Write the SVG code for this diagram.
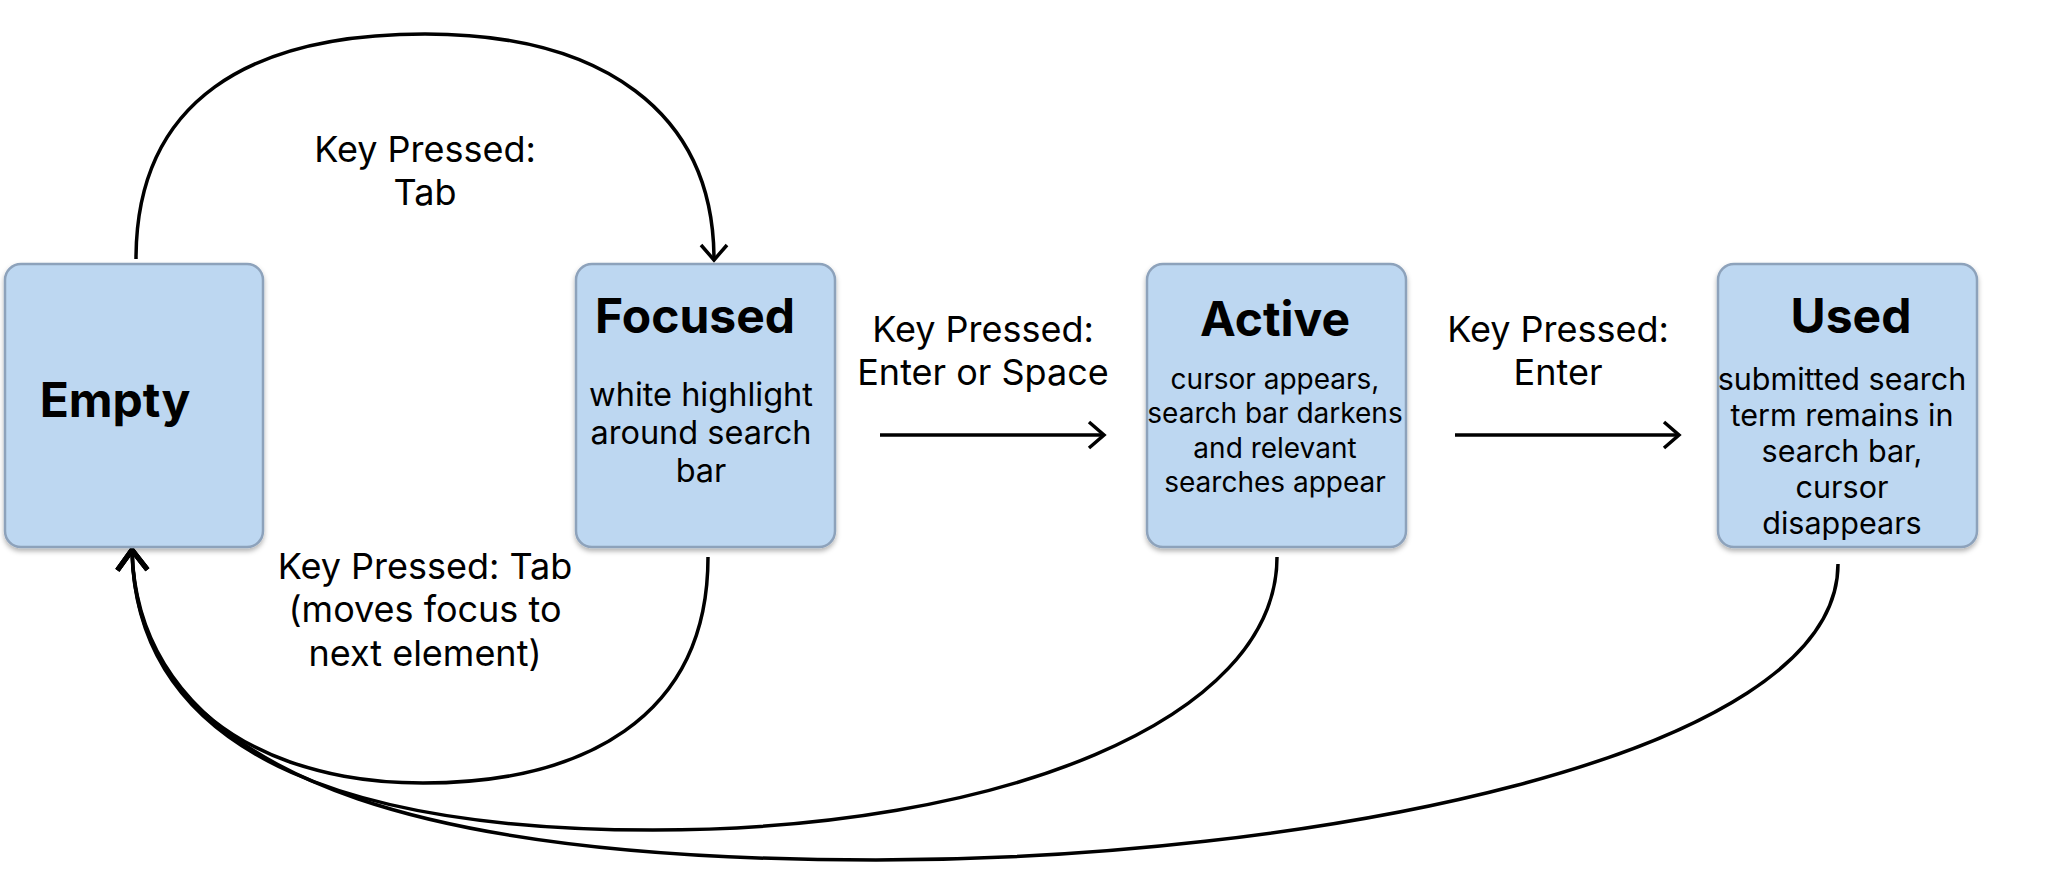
<svg xmlns="http://www.w3.org/2000/svg" width="2050" height="870" viewBox="0 0 2050 870">
  <style>
    .box { fill: #bdd7f1; stroke: #8da2bb; stroke-width: 2.5; filter: url(#shadow); }
    .title { font-family: Inter, "Liberation Sans", sans-serif; font-weight: 700; font-size: 48px; fill: #000; text-anchor: middle; }
    .body { font-family: Inter, "Liberation Sans", sans-serif; font-weight: 400; fill: #000; text-anchor: middle; }
    .label { font-family: Inter, "Liberation Sans", sans-serif; font-weight: 400; font-size: 36px; fill: #000; text-anchor: middle; }
    .edge { fill: none; stroke: #000; stroke-width: 3.5; }
  </style>
  <defs>
    <filter id="shadow" x="-10%" y="-10%" width="120%" height="125%">
      <feDropShadow dx="0" dy="3" stdDeviation="2.5" flood-color="#000" flood-opacity="0.3"/>
    </filter>
    <marker id="open-arrow" markerUnits="userSpaceOnUse" viewBox="-30 -20 40 40" markerWidth="40" markerHeight="40" refX="0" refY="0" orient="auto">
      <path d="M-15,-13 L0,0 L-15,13" fill="none" stroke="#000" stroke-width="3.5" stroke-linejoin="miter"/>
    </marker>
    <marker id="open-arrow-heavy" markerUnits="userSpaceOnUse" viewBox="-30 -20 40 40" markerWidth="40" markerHeight="40" refX="0" refY="0" orient="auto">
      <path d="M-20,-15 L0,0 L-20,15" fill="none" stroke="#000" stroke-width="5" stroke-linejoin="miter"/>
    </marker>
  </defs>

  <rect width="2050" height="870" fill="#fff"/>

  <!-- transitions -->
  <g id="connectors">
    <!-- Empty -> Focused (Tab) -->
    <path class="edge" d="M136,259 C136,100 250,34 425,34 C600,34 714,110 714,260" marker-end="url(#open-arrow)"/>
    <!-- Focused -> Active -->
    <path class="edge" d="M880,435 L1104,435" marker-end="url(#open-arrow)"/>
    <!-- Active -> Used -->
    <path class="edge" d="M1455,435 L1679,435" marker-end="url(#open-arrow)"/>
    <!-- Focused -> Empty (Tab leaves) -->
    <path class="edge" d="M708,557 C708,720 580,783 423,783 C360,783 320,772 290,762 C200,730 134,660 132,550" marker-end="url(#open-arrow-heavy)"/>
    <!-- Active -> Empty -->
    <path class="edge" d="M1277,557 C1277,720 1000,830 653,830 C380,830 136,770 132,550" marker-end="url(#open-arrow-heavy)"/>
    <!-- Used -> Empty -->
    <path class="edge" d="M1838,564 C1838,760 1300,860 876,860 C480,860 138,800 132,550" marker-end="url(#open-arrow-heavy)"/>
  </g>

  <!-- transition labels -->
  <g id="label-tab">
    <text class="label" x="425" y="162">Key Pressed:</text>
    <text class="label" x="425" y="205">Tab</text>
  </g>
  <g id="label-enter-space">
    <text class="label" x="983" y="342">Key Pressed:</text>
    <text class="label" x="983" y="385">Enter or Space</text>
  </g>
  <g id="label-enter">
    <text class="label" x="1558" y="342">Key Pressed:</text>
    <text class="label" x="1558" y="385">Enter</text>
  </g>
  <g id="label-tab-out">
    <text class="label" x="425" y="579">Key Pressed: Tab</text>
    <text class="label" x="425" y="622">(moves focus to</text>
    <text class="label" x="425" y="666">next element)</text>
  </g>

  <!-- states -->
  <g id="node-empty">
    <rect class="box" x="5" y="264" width="258" height="283" rx="16"/>
    <text class="title" x="115" y="417">Empty</text>
  </g>
  <g id="node-focused">
    <rect class="box" x="576" y="264" width="259" height="283" rx="16"/>
    <text class="title" x="695" y="333">Focused</text>
    <text class="body" font-size="32.5" x="701" y="406">white highlight</text>
    <text class="body" font-size="32.5" x="701" y="444">around search</text>
    <text class="body" font-size="32.5" x="701" y="482">bar</text>
  </g>
  <g id="node-active">
    <rect class="box" x="1147" y="264" width="259" height="283" rx="16"/>
    <text class="title" x="1275" y="336">Active</text>
    <text class="body" font-size="28" x="1275" y="389">cursor appears,</text>
    <text class="body" font-size="28" x="1275" y="423">search bar darkens</text>
    <text class="body" font-size="28" x="1275" y="458">and relevant</text>
    <text class="body" font-size="28" x="1275" y="492">searches appear</text>
  </g>
  <g id="node-used">
    <rect class="box" x="1718" y="264" width="259" height="283" rx="16"/>
    <text class="title" x="1851" y="333">Used</text>
    <text class="body" font-size="30.5" x="1842" y="390">submitted search</text>
    <text class="body" font-size="30.5" x="1842" y="426">term remains in</text>
    <text class="body" font-size="30.5" x="1842" y="462">search bar,</text>
    <text class="body" font-size="30.5" x="1842" y="498">cursor</text>
    <text class="body" font-size="30.5" x="1842" y="534">disappears</text>
  </g>
</svg>
